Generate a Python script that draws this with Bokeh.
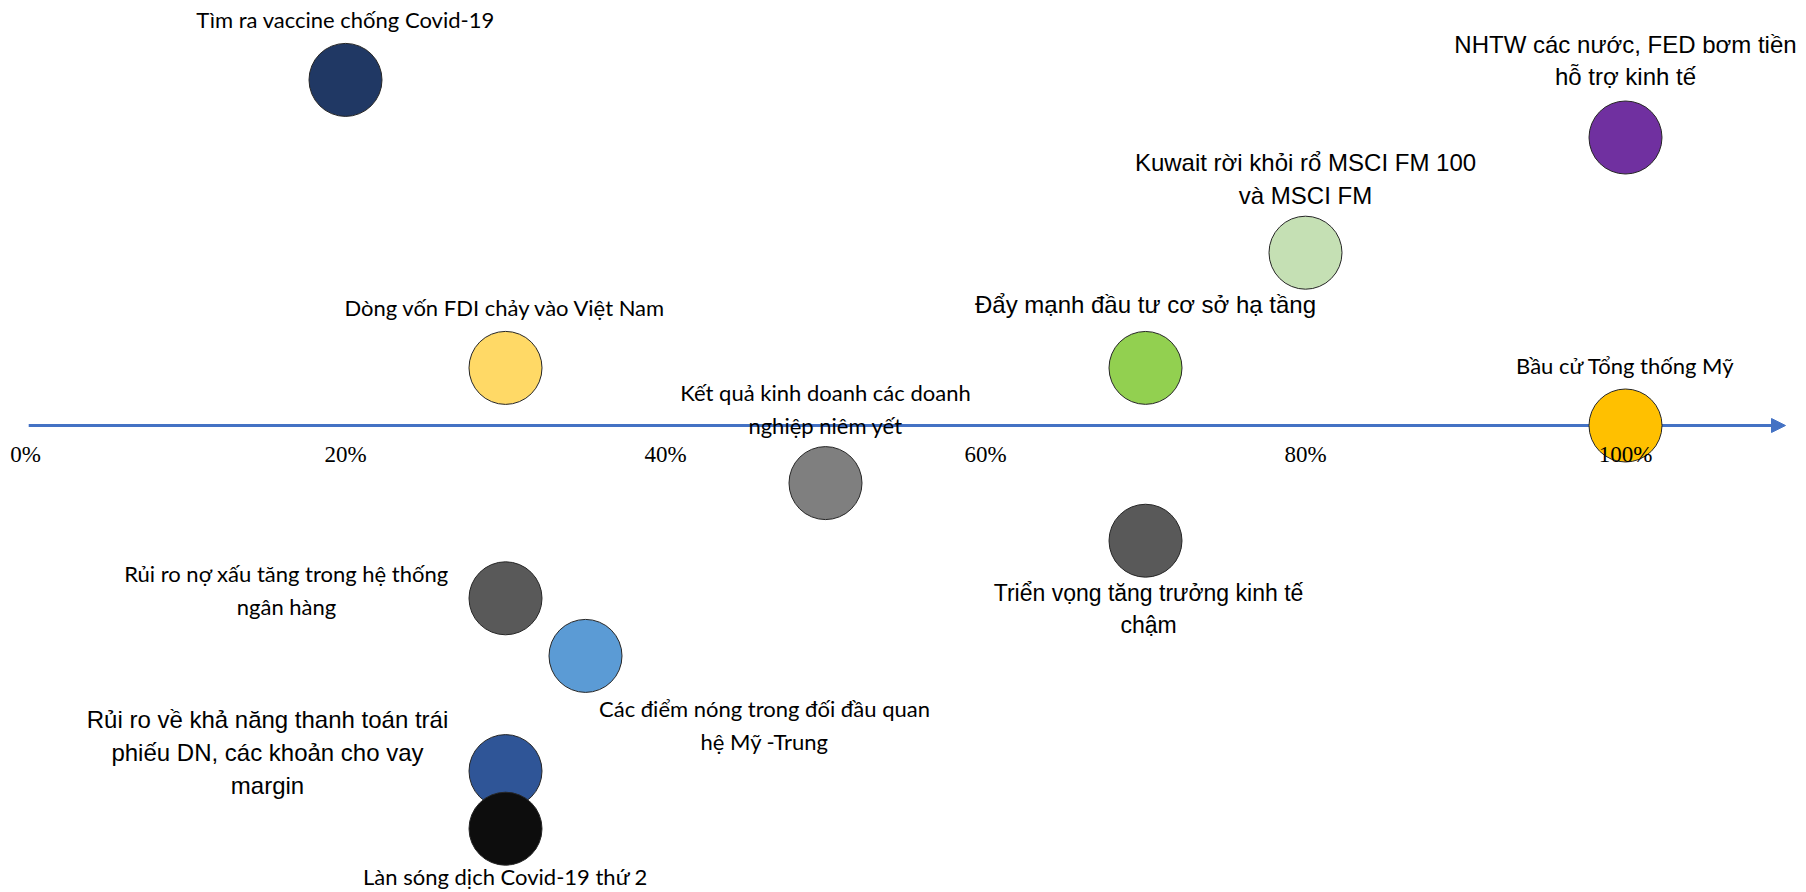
from bokeh.plotting import figure
from bokeh.models import Range1d, Arrow, NormalHead, ColumnDataSource
from bokeh.core.properties import value
from bokeh.embed import file_html
from bokeh.resources import INLINE

# ---------------- data ----------------
events = [
    "Tìm ra vaccine chống Covid-19",
    "NHTW các nước, FED bơm tiền\nhỗ trợ kinh tế",
    "Kuwait rời khỏi rổ MSCI FM 100\nvà MSCI FM",
    "Đẩy mạnh đầu tư cơ sở hạ tầng",
    "Dòng vốn FDI chảy vào Việt Nam",
    "Bầu cử Tổng thống Mỹ",
    "Kết quả kinh doanh các doanh\nnghiệp niêm yết",
    "Triển vọng tăng trưởng kinh tế\nchậm",
    "Rủi ro nợ xấu tăng trong hệ thống\nngân hàng",
    "Các điểm nóng trong đối đầu quan\nhệ Mỹ -Trung",
    "Rủi ro về khả năng thanh toán trái\nphiếu DN, các khoản cho vay\nmargin",
    "Làn sóng dịch Covid-19 thứ 2",
]
probability = [20, 100, 80, 70, 30, 100, 50, 70, 30, 35, 30, 30]   # x, percent
impact = [6, 5, 3, 1, 1, 0, -1, -2, -3, -4, -6, -7]                 # y level
colors = ["#203864", "#7030A0", "#C5E0B4", "#92D050", "#FFD966", "#FFC000",
          "#7F7F7F", "#595959", "#595959", "#5B9BD5", "#2F5597", "#0D0D0D"]
tick_values = [0, 20, 40, 60, 80, 100]
tick_labels = ["0%", "20%", "40%", "60%", "80%", "100%"]
axis_start, axis_end = 0.2, 110

# ---------------- label styles (pixel offsets / fonts) ----------------
CAL, ARI = "Lato", "Liberation Sans"
label_font = [CAL, ARI, ARI, ARI, CAL, CAL, CAL, ARI, CAL, CAL, ARI, CAL]
label_size = ["22px", "24px", "24px", "24px", "22px", "22px", "22px", "23px",
              "22px", "22px", "24px", "22px"]
label_dx = [0, 0, 0, 0, 0, 0, 0, 3, -219, 179, -238, 0]
label_dy = [-60, -77, -74, -63, -60, -60, -74, 68, -8, 69, -19, 48]

W, H = 1806, 892
x0_px, px_per_pct = 25, 16.0
y0_px, px_per_level = 425, 57.6

p = figure(width=W, height=H, output_backend="svg", toolbar_location=None,
           x_axis_location=None, y_axis_location=None, min_border=0,
           x_range=Range1d(-x0_px / px_per_pct, (W - x0_px) / px_per_pct),
           y_range=Range1d(-(H - y0_px) / px_per_level, y0_px / px_per_level))
p.grid.visible = False
p.outline_line_color = None
p.background_fill_color = "white"
p.border_fill_color = "white"

arrow = Arrow(x_start=axis_start, y_start=0, x_end=axis_end, y_end=0,
              line_color="#4472C4", line_width=3,
              end=NormalHead(size=14, fill_color="#4472C4", line_color="#4472C4"),
              level="underlay")
p.add_layout(arrow)

src = ColumnDataSource(dict(x=probability, y=impact, c=colors, t=events,
                            dx=label_dx, dy=label_dy))
p.scatter("x", "y", source=src, size=73, fill_color="c", line_color="#262626",
          line_width=1)

for i in range(len(events)):
    p.text(x=[probability[i]], y=[impact[i]], text=[events[i]],
           x_offset=label_dx[i], y_offset=label_dy[i],
           text_font=value(label_font[i]), text_font_size=label_size[i],
           text_align="center", text_baseline="middle",
           text_line_height=1.22, text_color="#000000")

p.text(x=tick_values, y=[0] * len(tick_values), text=tick_labels,
       y_offset=29, text_font=value("Liberation Serif"), text_font_size="23px",
       text_align="center", text_baseline="middle", text_color="#000000")

open("out.html", "w").write(file_html(p, INLINE))
